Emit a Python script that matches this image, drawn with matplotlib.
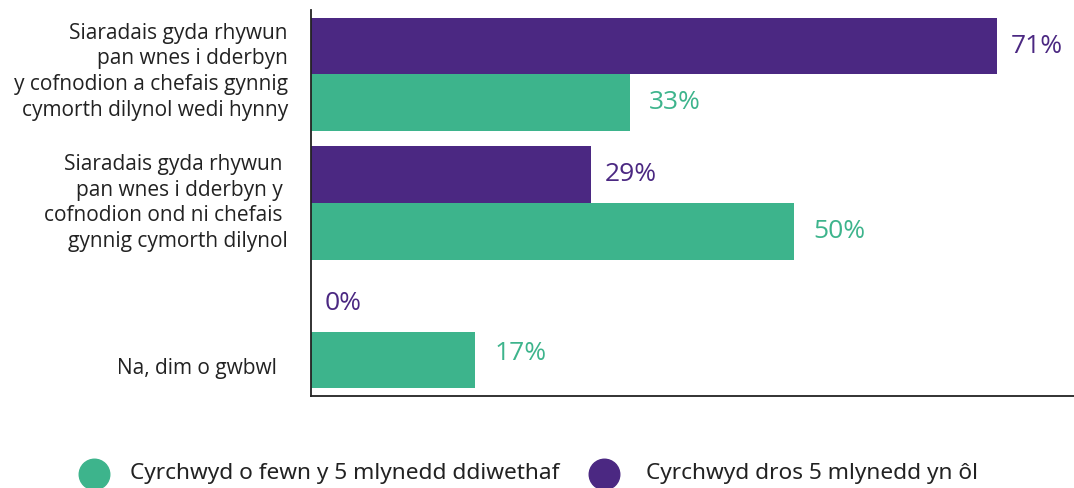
import numpy as np
import matplotlib
matplotlib.use("Agg")
import matplotlib.pyplot as plt
from matplotlib.lines import Line2D

plt.rcParams["font.family"] = ["Open Sans", "DejaVu Sans"]

# ---------------------------------------------------------------------------
# Data
# ---------------------------------------------------------------------------
categories = [
    "Siaradais gyda rhywun\npan wnes i dderbyn\ny cofnodion a chefais gynnig\ncymorth dilynol wedi hynny",
    "Siaradais gyda rhywun \npan wnes i dderbyn y \ncofnodion ond ni chefais \ngynnig cymorth dilynol",
    "Na, dim o gwbwl  ",
]
over_5_years = [71, 29, 0]     # Cyrchwyd dros 5 mlynedd yn ôl
within_5_years = [33, 50, 17]  # Cyrchwyd o fewn y 5 mlynedd ddiwethaf
series_labels = ["Cyrchwyd o fewn y 5 mlynedd ddiwethaf", "Cyrchwyd dros 5 mlynedd yn ôl"]

PURPLE = "#4b2882"
GREEN = "#3db48c"
TEXT = "#222222"

# ---------------------------------------------------------------------------
# Plot
# ---------------------------------------------------------------------------
fig = plt.figure(figsize=(10.74, 4.88), dpi=100)
ax = fig.add_axes([0.2896, 0.1885, 0.7104, 0.791])

y = np.arange(len(categories))
h = 0.44
ax.barh(y - h / 2, over_5_years, height=h, color=PURPLE)
ax.barh(y + h / 2, within_5_years, height=h, color=GREEN)

for yi, v in zip(y, over_5_years):
    ax.annotate(f"{v}%", (v, yi - h / 2), xytext=(10, 0), textcoords="offset points",
                color=PURPLE, fontsize=19, va="center", ha="left")
for yi, v in zip(y, within_5_years):
    # last label sits a little above its bar centre in the original
    dy = 5 if yi == y[-1] else 0
    ax.annotate(f"{v}%", (v, yi + h / 2), xytext=(14, dy), textcoords="offset points",
                color=GREEN, fontsize=19, va="center", ha="left")

ax.set_xlim(0, 79)
ax.set_ylim(2.5, -0.5)
ax.set_xticks([])
ax.set_yticks([])
for s in ["top", "right"]:
    ax.spines[s].set_visible(False)
for s in ["left", "bottom"]:
    ax.spines[s].set_linewidth(1.3)
    ax.spines[s].set_color(TEXT)

# category labels, placed to the left of the axis
label_y = [y[0] - 0.02, y[1], y[2] + h / 2 + 0.07]
for lbl, ly in zip(categories, label_y):
    ax.text(-2.4, ly, lbl, fontsize=15, ha="right", va="center",
            color=TEXT, linespacing=1.3)

# legend drawn by hand: circle markers + condensed labels
leg_y = 1 - 474 / 488
for cx, tx, col, lbl in [(94, 130, GREEN, series_labels[0]),
                         (604, 646, PURPLE, series_labels[1])]:
    fig.add_artist(Line2D([cx / 1074], [leg_y], marker="o", ls="none",
                          markersize=22, color=col, transform=fig.transFigure))
    fig.text(tx / 1074, leg_y, lbl, fontsize=16.3, ha="left", va="center",
             color=TEXT, family=["Noto Sans", "DejaVu Sans"])

fig.savefig("out.png", dpi=100)
